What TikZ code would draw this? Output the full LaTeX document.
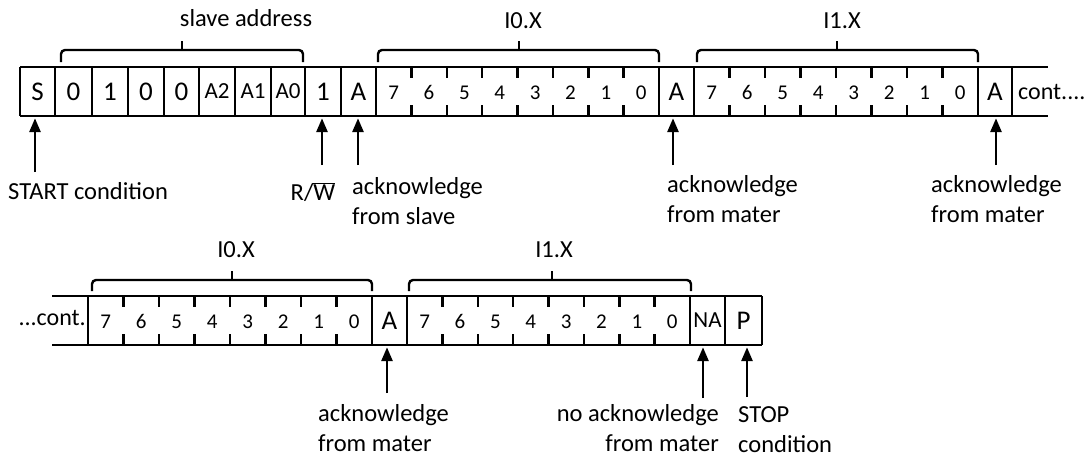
\documentclass[tikz,border=0pt]{standalone}
\usepackage{fontspec}
\setmainfont{Carlito}
\usetikzlibrary{arrows.meta,calc}
\begin{document}
\begin{tikzpicture}[x=1pt,y=-1pt,
  ln/.style={line width=2.8pt},
  tk/.style={line width=2.5pt},
  arr/.style={line width=2.8pt,-{Triangle[width=11pt,length=14pt]},shorten >=2pt},
  brc/.style={line width=2.4pt,rounded corners=4pt},
  cellbase/.style={inner sep=0pt,minimum height=49pt},
  big/.style={cellbase,font=\fontsize{27}{30}\selectfont},
  mid/.style={cellbase,font=\fontsize{23}{26}\selectfont},
  bit/.style={cellbase,font=\fontsize{21}{24}\selectfont},
  lab/.style={inner sep=0pt,font=\fontsize{24.5}{29.5}\selectfont,anchor=base west},
  ttl/.style={inner sep=0pt,font=\fontsize{24.5}{29}\selectfont},
]
\useasboundingbox (0,0) rectangle (1088,459);

% ---------- Row 1 ----------
\def\ta{67}\def\ba{116}\def\ca{91.5}
\draw[ln] (20,\ta) -- (1048,\ta);
\draw[ln] (20,\ba) -- (1048,\ba);
\foreach \x in {20,55,92,128,164,199,235,271,305,341,376,659,694,978,1012}
  \draw[ln] (\x,\ta) -- (\x,\ba);
\node[big] (s) at (37.5,\ca) {S};
\node[big] (a0) at (73.5,\ca) {0};
\node[big] (a1) at (110,\ca) {1};
\node[big] (a2) at (146,\ca) {0};
\node[big] (a3) at (181.5,\ca) {0};
\node[mid] (aa2) at (217,\ca) {A2};
\node[mid] (aa1) at (253,\ca) {A1};
\node[mid] (aa0) at (288,\ca) {A0};
\node[big] (rw) at (323,\ca) {1};
\node[big] (ack1) at (358.5,\ca) {A};
\foreach \d [count=\k from 0] in {7,6,5,4,3,2,1,0}{
  \node[bit] (p\d) at ({376+35.375*(\k+0.5)},\ca+1) {\d};
  \ifnum\k>0
    \draw[tk] ({376+35.375*\k},\ta) -- ++(0,11);
    \draw[tk] ({376+35.375*\k},\ba) -- ++(0,-11);
  \fi
}
\node[big] (ack2) at (676.5,\ca) {A};
\foreach \d [count=\k from 0] in {7,6,5,4,3,2,1,0}{
  \node[bit] (q\d) at ({694+35.5*(\k+0.5)},\ca+1) {\d};
  \ifnum\k>0
    \draw[tk] ({694+35.5*\k},\ta) -- ++(0,11);
    \draw[tk] ({694+35.5*\k},\ba) -- ++(0,-11);
  \fi
}
\node[big] (ack3) at (995,\ca) {A};
\node[inner sep=0pt,font=\fontsize{24}{28}\selectfont,anchor=west] (cont1) at (1018,\ca) {cont....};

% braces row 1
\draw[brc] (61,62) -- (61,50) -- (303,50) -- (303,62);
\draw[brc] (182,50) -- (182,41);
\node[ttl] (t1) at (246,18) {slave address};
\draw[brc] (378,62) -- (378,50) -- (659,50) -- (659,62);
\draw[brc] (519,50) -- (519,41);
\node[ttl] (t2) at (523,21) {I0.X};
\draw[brc] (697,62) -- (697,50) -- (978,50) -- (978,62);
\draw[brc] (837,50) -- (837,41);
\node[ttl] (t3) at (842,21) {I1.X};

% arrows row 1
\coordinate (e1) at (35,172);
\coordinate (e2) at (322,165);
\coordinate (e3) at (358,165);
\coordinate (e4) at (673,165);
\coordinate (e5) at (996,165);
\draw[arr] (e1) -- (e1 |- s.south);
\draw[arr] (e2) -- (e2 |- rw.south);
\draw[arr] (e3) -- (e3 |- ack1.south);
\draw[arr] (e4) -- (e4 |- ack2.south);
\draw[arr] (e5) -- (e5 |- ack3.south);
\node[lab] (l1) at (8,199) {START condition};
\node[lab,anchor=base] (l2) at (313,200) {R/\(\overline{\hbox{W}}\)};
\node[lab,align=left,anchor=base west] (l3) at (352,224) {acknowledge\\from slave};
\node[lab,align=left,anchor=base west] (l4) at (667,222) {acknowledge\\from mater};
\node[lab,align=left,anchor=base west] (l5) at (931,222) {acknowledge\\from mater};

% ---------- Row 2 ----------
\def\tb{296}\def\bb{345}\def\cb{320.5}
\draw[ln] (52,\tb) -- (762,\tb);
\draw[ln] (52,\bb) -- (762,\bb);
\foreach \x in {88,372,407,690,725,762}
  \draw[ln] (\x,\tb) -- (\x,\bb);
\node[inner sep=0pt,font=\fontsize{24}{28}\selectfont,anchor=east] (cont2) at (86,318) {...cont.};
\foreach \d [count=\k from 0] in {7,6,5,4,3,2,1,0}{
  \node[bit] (u\d) at ({88+35.5*(\k+0.5)},\cb+1) {\d};
  \ifnum\k>0
    \draw[tk] ({88+35.5*\k},\tb) -- ++(0,11);
    \draw[tk] ({88+35.5*\k},\bb) -- ++(0,-11);
  \fi
}
\node[big] (ack4) at (389.5,\cb) {A};
\foreach \d [count=\k from 0] in {7,6,5,4,3,2,1,0}{
  \node[bit] (v\d) at ({407+35.375*(\k+0.5)},\cb+1) {\d};
  \ifnum\k>0
    \draw[tk] ({407+35.375*\k},\tb) -- ++(0,11);
    \draw[tk] ({407+35.375*\k},\bb) -- ++(0,-11);
  \fi
}
\node[mid] (na) at (707.5,\cb) {NA};
\node[big] (stp) at (743.5,\cb) {P};

% braces row 2
\draw[brc] (92,291) -- (92,280) -- (372,280) -- (372,291);
\draw[brc] (232,280) -- (232,271);
\node[ttl] (t4) at (236,250) {I0.X};
\draw[brc] (409,291) -- (409,280) -- (691,280) -- (691,291);
\draw[brc] (552,280) -- (552,271);
\node[ttl] (t5) at (554,250) {I1.X};

% arrows row 2
\coordinate (f1) at (387,393);
\coordinate (f2) at (703,398);
\coordinate (f3) at (747,397);
\draw[arr] (f1) -- (f1 |- ack4.south);
\draw[arr] (f2) -- (f2 |- na.south);
\draw[arr] (f3) -- (f3 |- stp.south);
\node[lab,align=left,anchor=base west] (m1) at (318,451) {acknowledge\\from mater};
\node[lab,align=right,anchor=base east] (m2) at (719,451) {no acknowledge\\from mater};
\node[lab,align=left,anchor=base west] (m3) at (738,452) {STOP\\condition};
\end{tikzpicture}
\end{document}
